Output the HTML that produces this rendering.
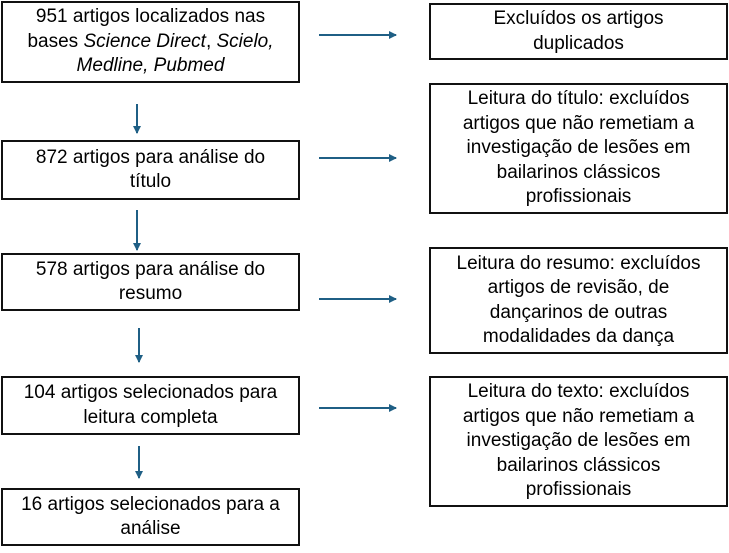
<!DOCTYPE html>
<html><head><meta charset="utf-8"><style>
body{margin:0;width:729px;height:553px;background:#fff;position:relative;overflow:hidden;font-family:"Liberation Sans",Arial,sans-serif;}
.b{position:absolute;box-sizing:border-box;border:2px solid #111;display:flex;align-items:center;justify-content:center;text-align:center;font-size:19px;line-height:24.5px;color:#000;}
.b>div{display:block;}
svg{position:absolute;left:0;top:0}
</style></head><body>
<div class="b" style="left:1px;top:1px;width:299px;height:82px"><div>951 artigos localizados nas<br>bases <i>Science Direct</i>, <i>Scielo,</i><br><i>Medline, Pubmed</i></div></div>
<div class="b" style="left:1px;top:140px;width:299px;height:60px"><div>872 artigos para análise do<br>título</div></div>
<div class="b" style="left:1px;top:253px;width:299px;height:58px"><div>578 artigos para análise do<br>resumo</div></div>
<div class="b" style="left:1px;top:376px;width:299px;height:59px"><div>104 artigos selecionados para<br>leitura completa</div></div>
<div class="b" style="left:1px;top:488px;width:299px;height:58px"><div>16 artigos selecionados para a<br>análise</div></div>
<div class="b" style="left:429px;top:3px;width:299px;height:57px"><div>Excluídos os artigos<br>duplicados</div></div>
<div class="b" style="left:429px;top:83px;width:299px;height:131px"><div>Leitura do título: excluídos<br>artigos que não remetiam a<br>investigação de lesões em<br>bailarinos clássicos<br>profissionais</div></div>
<div class="b" style="left:429px;top:247px;width:299px;height:107px"><div>Leitura do resumo: excluídos<br>artigos de revisão, de<br>dançarinos de outras<br>modalidades da dança</div></div>
<div class="b" style="left:429px;top:376px;width:299px;height:131px"><div>Leitura do texto: excluídos<br>artigos que não remetiam a<br>investigação de lesões em<br>bailarinos clássicos<br>profissionais</div></div>
<svg width="729" height="553">
<defs><marker id="a" markerWidth="8" markerHeight="8" refX="7" refY="4" orient="auto" markerUnits="userSpaceOnUse"><path d="M0,0 L8,4 L0,8z" fill="#1f5f85"/></marker></defs>
<g stroke="#1f5f85" stroke-width="2" marker-end="url(#a)">
<line x1="137" y1="104" x2="137" y2="133"/>
<line x1="137" y1="210" x2="137" y2="250"/>
<line x1="139" y1="328" x2="139" y2="362"/>
<line x1="139" y1="446" x2="139" y2="478"/>
<line x1="319" y1="35" x2="396" y2="35"/>
<line x1="319" y1="158" x2="396" y2="158"/>
<line x1="319" y1="299" x2="396" y2="299"/>
<line x1="319" y1="408" x2="396" y2="408"/>
</g></svg>
</body></html>
